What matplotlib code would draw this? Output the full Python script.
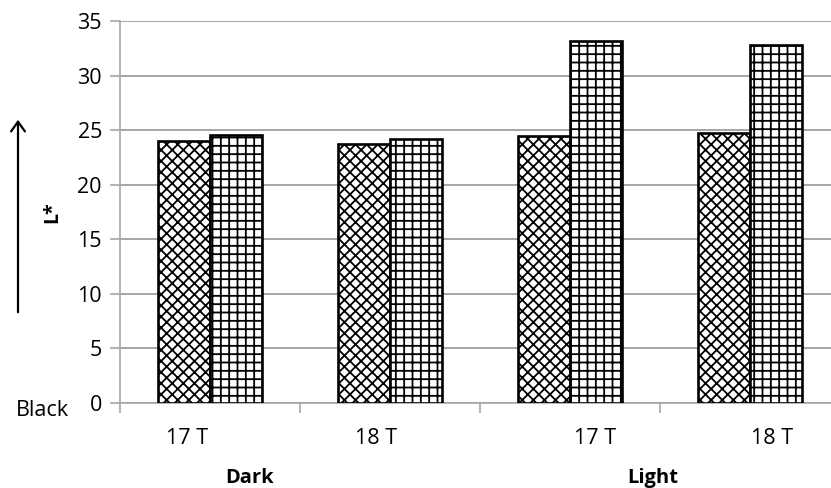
import matplotlib
matplotlib.use("Agg")
import matplotlib.pyplot as plt
import matplotlib.transforms as mtrans
import numpy as np

# Data
categories = ["17 T", "18 T", "17 T", "18 T"]
groups = ["Dark", "Light"]
series_a = [24.0, 23.7, 24.5, 24.7]   # cross-hatched bars
series_b = [24.6, 24.2, 33.2, 32.8]   # grid-hatched bars
yticks = [0, 5, 10, 15, 20, 25, 30, 35]

plt.rcParams['font.family'] = ['Open Sans', 'DejaVu Sans']
plt.rcParams['hatch.linewidth'] = 1.3

W, H = 831, 488
fig = plt.figure(figsize=(W / 100, H / 100), dpi=100)
ax = fig.add_axes([120 / W, 1 - 403 / H, 720 / W, (403 - 21) / H])

x = np.arange(len(categories))
bw = 0.29
ax.bar(x - bw / 2, series_a, width=bw, facecolor="white", edgecolor="black",
       hatch="xxx", linewidth=1.9, zorder=3)
ax.bar(x + bw / 2, series_b, width=bw, facecolor="white", edgecolor="black",
       hatch="++", linewidth=1.9, zorder=3)

ax.set_xlim(-0.5, len(categories) - 0.5)
ax.set_ylim(0, 35)
ax.set_yticks(yticks)
ax.yaxis.grid(True, color="#a6a6a6", linewidth=1.4)
ax.set_axisbelow(True)

for s in ["top", "right"]:
    ax.spines[s].set_visible(False)
for s in ["left", "bottom"]:
    ax.spines[s].set_color("#a6a6a6")
    ax.spines[s].set_linewidth(1.2)

ax.set_xticks(np.arange(-0.5, len(categories) + 0.5, 1.0))
ax.set_xticklabels([])
ax.tick_params(axis="x", length=7, color="#a6a6a6", width=1.2)
ax.tick_params(axis="y", length=7, color="#a6a6a6", width=1.2,
               labelsize=15.5, pad=6)

# category labels
trans = mtrans.blended_transform_factory(ax.transData, fig.transFigure)
cat_pos = [-0.13, 0.92, 2.14, 3.12]
for p, c in zip(cat_pos, categories):
    ax.text(p, 1 - 438 / H, c, transform=trans, ha="center", va="center",
            fontsize=15.5)
grp_pos = [0.22, 2.46]
for p, g in zip(grp_pos, groups):
    ax.text(p, 1 - 478 / H, g, transform=trans, ha="center", va="center",
            fontsize=14.5, fontweight="bold")

# y-axis annotation
fig.text(52 / W, 1 - 212 / H, "L*", rotation=90, ha="center", va="center",
         fontsize=14, fontweight="bold")
fig.text(42 / W, 1 - 411 / H, "Black", ha="center", va="center", fontsize=15.5)
fig.add_artist(matplotlib.patches.FancyArrowPatch(
    (18 / W, 1 - 315 / H), (18 / W, 1 - 117 / H), transform=fig.transFigure,
    arrowstyle="->,head_length=7,head_width=5", color="black", linewidth=1.6,
    mutation_scale=1))

fig.savefig("out.png", dpi=100)
